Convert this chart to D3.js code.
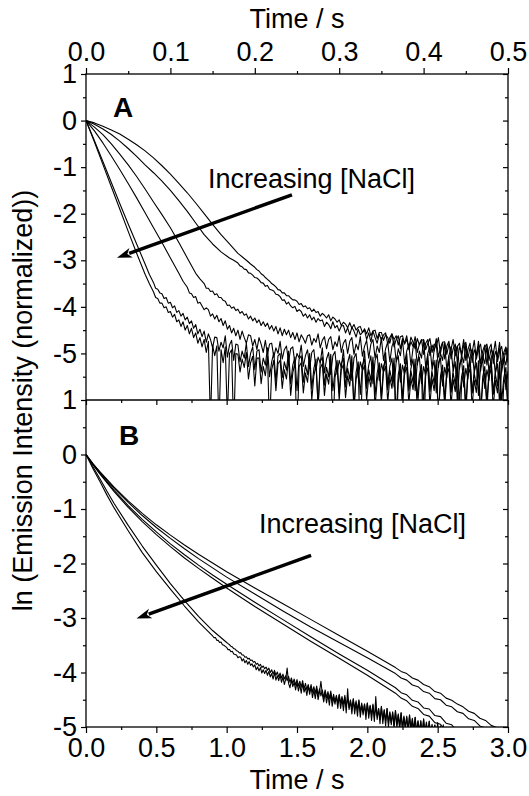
<!DOCTYPE html>
<html>
<head>
<meta charset="utf-8">
<script src="https://cdnjs.cloudflare.com/ajax/libs/d3/7.8.5/d3.min.js"></script>
<style>
body { margin: 0; background: #fff; }
svg { display: block; font-family: "Liberation Sans", Arial, sans-serif; }
</style>
</head>
<body>
<svg id="chart" width="529" height="796"></svg>
<script>
// ---- axis ticks ----
const xTicksA = [0, 0.1, 0.2, 0.3, 0.4, 0.5];
const xMinorA = [0.05, 0.15, 0.25, 0.35, 0.45];
const xTicksB = [0, 0.5, 1.0, 1.5, 2.0, 2.5, 3.0];
const xMinorB = [0.25, 0.75, 1.25, 1.75, 2.25, 2.75];
const yTicksA = [1, 0, -1, -2, -3, -4, -5];
const yMinorA = [0.5, -0.5, -1.5, -2.5, -3.5, -4.5, -5.5];
const yTicksB = [1, 0, -1, -2, -3, -4, -5];
const yMinorB = [0.5, -0.5, -1.5, -2.5, -3.5, -4.5];

// ---- panel A: smooth head [t, y], then noisy tail sampled every 0.0025 s ----
const a1Head = [[0,0],[0.01,-0.05],[0.02,-0.12],[0.03,-0.2],[0.04,-0.29],[0.05,-0.4],[0.06,-0.52],[0.07,-0.65],[0.08,-0.8],[0.09,-0.97],[0.10,-1.15],[0.11,-1.35],[0.12,-1.55],[0.13,-1.77],[0.14,-2.0],[0.15,-2.23],[0.16,-2.45],[0.17,-2.65],[0.18,-2.85],[0.19,-3.0],[0.195,-3.08]];
const a1Tail = [
  -3.15,-3.20,-3.23,-3.29,-3.32,-3.37,-3.41,-3.45,-3.50,-3.53,
  -3.57,-3.63,-3.64,-3.70,-3.70,-3.76,-3.76,-3.81,-3.85,-3.85,
  -3.88,-3.95,-3.93,-4.00,-3.98,-4.04,-4.02,-4.10,-4.05,-4.12,
  -4.10,-4.20,-4.14,-4.18,-4.24,-4.17,-4.30,-4.22,-4.26,-4.33,
  -4.28,-4.40,-4.33,-4.37,-4.45,-4.34,-4.46,-4.38,-4.50,-4.44,
  -4.42,-4.55,-4.47,-4.58,-4.45,-4.62,-4.52,-4.50,-4.68,-4.55,
  -4.55,-4.72,-4.60,-4.66,-4.78,-4.58,-4.70,-4.62,-4.82,-4.64,
  -4.62,-4.80,-4.70,-4.88,-4.65,-4.76,-4.90,-4.68,-4.82,-4.72,
  -4.70,-4.92,-4.78,-4.68,-4.98,-4.80,-4.86,-4.66,-5.00,-4.76,
  -4.75,-5.02,-4.80,-4.92,-4.70,-5.05,-4.85,-4.78,-5.08,-4.82,
  -4.76,-5.10,-4.88,-4.98,-4.72,-5.12,-4.90,-4.80,-5.15,-4.86,
  -4.80,-5.15,-4.90,-5.02,-4.74,-5.18,-4.95,-4.85,-5.20,-4.88,
  -5.05];
const a2Head = [[0,0],[0.01,-0.08],[0.02,-0.18],[0.03,-0.3],[0.04,-0.44],[0.05,-0.6],[0.06,-0.77],[0.07,-0.95],[0.08,-1.12],[0.09,-1.3],[0.10,-1.5],[0.11,-1.72],[0.12,-1.95],[0.13,-2.2],[0.14,-2.45],[0.15,-2.65],[0.16,-2.82],[0.17,-2.95],[0.175,-3.0]];
const a2Tail = [
  -3.06,-3.12,-3.14,-3.19,-3.20,-3.27,-3.28,-3.32,-3.37,-3.38,
  -3.42,-3.48,-3.49,-3.56,-3.54,-3.62,-3.64,-3.66,-3.73,-3.74,
  -3.78,-3.86,-3.85,-3.94,-3.90,-3.98,-4.02,-3.99,-4.10,-4.06,
  -4.10,-4.20,-4.15,-4.24,-4.17,-4.28,-4.22,-4.33,-4.25,-4.30,
  -4.28,-4.42,-4.33,-4.38,-4.47,-4.32,-4.45,-4.40,-4.52,-4.41,
  -4.40,-4.56,-4.45,-4.60,-4.44,-4.52,-4.65,-4.48,-4.60,-4.55,
  -4.50,-4.70,-4.56,-4.75,-4.52,-4.66,-4.78,-4.58,-4.72,-4.60,
  -4.56,-4.80,-4.66,-4.58,-4.86,-4.70,-4.62,-4.90,-4.68,-4.78,
  -4.62,-4.92,-4.75,-4.85,-4.64,-4.98,-4.80,-4.70,-5.02,-4.78,
  -4.70,-5.05,-4.82,-4.95,-4.68,-5.08,-4.88,-4.76,-5.12,-4.84,
  -4.74,-5.12,-4.90,-4.80,-5.18,-4.86,-5.00,-4.70,-5.15,-4.92,
  -4.78,-5.20,-4.92,-5.05,-4.74,-5.22,-4.95,-4.82,-5.25,-4.90,
  -4.80,-5.22,-4.96,-5.08,-4.76,-5.26,-4.98,-4.86,-5.20];
const a3Head = [[0,0],[0.01,-0.14],[0.02,-0.3],[0.03,-0.5],[0.04,-0.72],[0.05,-0.95],[0.06,-1.2],[0.07,-1.47],[0.08,-1.75],[0.09,-2.02],[0.10,-2.3],[0.11,-2.62],[0.12,-2.95],[0.13,-3.28],[0.135,-3.4]];
const a3Tail = [
  -3.50,-3.60,-3.60,-3.67,-3.66,-3.74,-3.72,-3.80,-3.80,-3.86,
  -3.88,-3.97,-3.96,-4.03,-4.00,-4.08,-4.05,-4.14,-4.10,-4.18,
  -4.15,-4.26,-4.20,-4.30,-4.24,-4.34,-4.28,-4.40,-4.32,-4.42,
  -4.35,-4.48,-4.40,-4.52,-4.42,-4.58,-4.45,-4.62,-4.48,-4.60,
  -4.50,-4.66,-4.55,-4.70,-4.56,-4.75,-4.60,-4.68,-4.78,-4.62,
  -4.60,-4.82,-4.68,-4.76,-4.58,-4.88,-4.72,-4.64,-4.90,-4.70,
  -4.64,-4.92,-4.75,-4.85,-4.62,-4.98,-4.78,-4.70,-5.00,-4.74,
  -4.66,-5.02,-4.80,-4.92,-4.64,-5.06,-4.85,-4.72,-5.10,-4.80,
  -4.70,-5.10,-4.84,-4.98,-4.66,-5.15,-4.90,-4.76,-5.18,-4.85,
  -4.72,-5.18,-4.90,-5.05,-4.70,-5.22,-4.95,-4.80,-5.26,-4.88,
  -4.76,-5.25,-4.95,-5.10,-4.72,-5.30,-5.00,-4.85,-5.32,-4.92,
  -4.80,-5.30,-5.00,-5.15,-4.78,-5.35,-5.05,-4.88,-5.38,-4.96,
  -4.84,-5.34,-5.04,-5.20,-4.80,-5.38,-5.08,-4.92,-5.42,-5.00,
  -4.86,-5.38,-5.06,-5.22,-4.84,-5.42,-5.10,-4.95,-5.45,-5.02,
  -4.90,-5.40,-5.10,-5.25,-4.88];
const a4Head = [[0,0],[0.01,-0.22],[0.02,-0.48],[0.03,-0.76],[0.04,-1.05],[0.05,-1.35],[0.06,-1.66],[0.07,-1.98],[0.08,-2.3],[0.09,-2.62],[0.10,-2.95],[0.11,-3.28],[0.115,-3.45]];
const a4Tail = [
  -3.58,-3.70,-3.72,-3.80,-3.78,-3.92,-3.90,-3.98,-4.06,-4.02,
  -4.06,-4.20,-4.15,-4.26,-4.18,-4.32,-4.25,-4.40,-4.30,-4.48,
  -4.40,-4.56,-4.46,-4.62,-4.50,-4.70,-4.52,-4.66,-4.78,-4.60,
  -4.62,-4.84,-4.70,-4.92,-4.66,-4.80,-4.98,-4.72,-5.02,-4.80,
  -4.78,-5.08,-4.88,-5.00,-4.74,-5.12,-4.92,-4.84,-5.18,-4.90,
  -4.86,-5.22,-5.00,-5.10,-4.82,-5.28,-5.05,-4.92,-5.32,-4.98,
  -4.92,-5.35,-5.08,-5.20,-4.88,-5.42,-5.12,-4.98,-5.45,-5.05,
  -4.96,-5.45,-5.15,-5.30,-4.92,-5.52,-5.20,-5.02,-5.58,-5.10,
  -5.00,-5.52,-5.18,-5.35,-4.95,-5.60,-5.25,-5.05,-5.65,-5.15,
  -5.02,-5.58,-5.22,-5.40,-4.98,-5.68,-5.28,-5.10,-5.72,-5.18,
  -5.05,-5.62,-5.25,-5.45,-5.00,-5.75,-5.32,-5.12,-5.80,-5.20,
  -5.08,-5.65,-5.28,-5.48,-5.02,-5.78,-5.35,-5.15,-5.85,-5.22,
  -5.10,-5.70,-5.30,-5.52,-5.05,-5.82,-5.38,-5.18,-6.05,-5.25,
  -5.12,-5.72,-5.32,-5.55,-5.08,-5.85,-5.40,-5.20,-5.90,-5.28,
  -5.14,-5.75,-5.35,-5.58,-5.10,-5.88,-5.42,-5.22,-6.10,-5.30,
  -5.16,-5.78,-5.38];
const a5Head = [[0,0],[0.01,-0.43],[0.02,-0.88],[0.03,-1.33],[0.04,-1.78],[0.05,-2.22],[0.06,-2.65],[0.07,-3.08],[0.075,-3.3]];
const a5Tail = [
  -3.48,-3.60,-3.62,-3.70,-3.72,-3.82,-3.80,-3.92,-3.90,-4.02,
  -3.98,-4.12,-4.08,-4.20,-4.14,-4.28,-4.22,-4.36,-4.30,-4.46,
  -4.38,-4.58,-4.48,-4.64,-4.52,-4.76,-4.58,-4.70,-4.88,-4.65,
  -4.66,-4.95,-4.76,-4.88,-4.62,-5.08,-4.82,-4.72,-5.15,-4.80,
  -4.82,-5.18,-4.95,-5.10,-4.78,-5.28,-5.00,-4.86,-5.35,-4.95,
  -4.92,-5.40,-5.10,-5.25,-4.88,-5.50,-5.18,-4.98,-5.60,-5.05,
  -5.00,-5.52,-5.18,-5.36,-4.95,-5.65,-5.25,-5.08,-5.80,-5.12,
  -5.05,-5.62,-5.25,-5.45,-5.00,-5.75,-5.32,-5.12,-6.20,-5.18,
  -5.08,-5.68,-5.30,-5.50,-5.02,-5.80,-5.38,-5.15,-5.85,-5.22,
  -5.10,-5.72,-5.32,-5.55,-5.05,-6.30,-5.40,-5.18,-5.88,-5.25,
  -5.12,-5.75,-5.35,-5.58,-5.08,-5.90,-5.42,-5.20,-5.95,-5.28,
  -5.14,-5.78,-5.36,-5.60,-5.10,-6.40,-5.45,-5.22,-5.98,-5.30,
  -5.15,-5.80,-5.38,-5.62,-5.12,-5.95,-5.46,-5.24,-6.10,-5.32,
  -5.16,-5.82,-5.40,-5.64,-5.14,-6.50,-5.48,-5.25,-6.00,-5.34,
  -5.18,-5.84,-5.42,-5.66,-5.15,-6.00,-5.50,-5.26,-6.15,-5.35,
  -5.19,-5.85,-5.43,-5.68,-5.16,-6.35,-5.51,-5.28,-6.05,-5.36,
  -5.20,-5.86,-5.44,-5.70,-5.18,-6.02,-5.52,-5.30,-6.20];
const a6Head = [[0,0],[0.01,-0.46],[0.02,-0.94],[0.03,-1.42],[0.04,-1.9],[0.05,-2.38],[0.06,-2.85],[0.07,-3.3],[0.075,-3.5]];
const a6Tail = [
  -3.68,-3.80,-3.82,-3.92,-3.92,-4.02,-4.00,-4.12,-4.10,-4.22,
  -4.16,-4.32,-4.28,-4.42,-4.32,-4.50,-4.40,-4.58,-4.46,-4.66,
  -4.56,-4.78,-4.66,-4.86,-4.70,-4.98,-4.74,-6.50,-4.82,-5.05,
  -4.84,-6.60,-4.92,-5.20,-4.86,-6.40,-5.00,-4.92,-6.70,-5.00,
  -5.02,-5.40,-5.12,-5.30,-4.98,-5.55,-5.20,-5.06,-5.70,-5.10,
  -5.10,-5.65,-5.28,-5.48,-5.05,-6.60,-5.35,-5.15,-5.80,-5.22,
  -5.15,-5.75,-5.35,-5.55,-5.10,-5.90,-5.42,-5.20,-6.80,-5.28,
  -5.20,-5.85,-5.42,-5.62,-5.15,-6.00,-5.48,-5.25,-6.10,-5.32,
  -5.22,-5.90,-5.45,-5.66,-5.18,-6.70,-5.52,-5.28,-6.00,-5.35,
  -5.24,-5.95,-5.48,-5.70,-5.20,-6.10,-5.55,-5.30,-6.90,-5.38,
  -5.26,-6.00,-5.50,-5.72,-5.22,-6.15,-5.58,-5.32,-6.05,-5.40,
  -5.28,-6.05,-5.52,-5.75,-5.24,-6.80,-5.60,-5.34,-6.20,-5.42,
  -5.30,-6.08,-5.54,-5.78,-5.25,-6.20,-5.62,-5.36,-7.00,-5.44,
  -5.31,-6.10,-5.55,-5.80,-5.26,-6.25,-5.64,-5.38,-6.15,-5.45,
  -5.32,-6.12,-5.56,-5.82,-5.28,-6.90,-5.65,-5.40,-6.30,-5.46,
  -5.33,-6.15,-5.57,-5.84,-5.30,-6.30,-5.66,-5.42,-6.20,-5.47,
  -5.34,-6.18,-5.58,-5.85,-5.32,-6.60,-5.67,-5.44,-6.25];
const tailStartA = [0.2, 0.18, 0.14, 0.12, 0.08, 0.08];
const tailStepA = 0.0025;

// ---- panel B: smooth head [t, y], noisy tail (fast decays every 0.01 s, slow ones every 0.04 s) ----
const b1Head = [[0,0],[0.05,-0.26],[0.1,-0.5],[0.15,-0.75],[0.2,-0.98],[0.3,-1.4],[0.4,-1.8],[0.5,-2.15],[0.6,-2.47],[0.7,-2.78],[0.8,-3.07],[0.85,-3.2]];
const b1Tail = [
  -3.33,-3.36,-3.36,-3.41,-3.41,-3.45,-3.44,-3.49,-3.50,-3.52,
  -3.54,-3.58,-3.58,-3.62,-3.61,-3.66,-3.67,-3.68,-3.73,-3.71,
  -3.72,-3.79,-3.75,-3.82,-3.78,-3.85,-3.80,-3.87,-3.84,-3.90,
  -3.86,-3.95,-3.90,-3.97,-3.91,-4.01,-3.95,-4.02,-3.96,-4.05,
  -3.98,-4.08,-4.02,-4.12,-4.00,-4.14,-4.06,-4.15,-4.05,-4.18,
  -4.08,-4.22,-4.12,-3.92,-4.20,-4.28,-4.14,-4.26,-4.18,-4.32,
  -4.18,-4.34,-4.22,-4.38,-4.20,-4.36,-4.28,-4.42,-4.24,-4.40,
  -4.26,-4.46,-4.32,-4.48,-4.30,-4.50,-4.36,-4.16,-4.40,-4.54,
  -4.36,-4.56,-4.40,-4.60,-4.38,-4.62,-4.46,-4.58,-4.44,-4.66,
  -4.42,-4.66,-4.48,-4.70,-4.46,-4.74,-4.30,-4.68,-4.52,-4.76,
  -4.50,-4.76,-4.56,-4.80,-4.52,-4.82,-4.60,-4.78,-4.58,-4.86,
  -4.56,-4.84,-4.62,-4.88,-4.60,-4.90,-4.44,-4.86,-4.66,-4.94,
  -4.62,-4.94,-4.70,-4.98,-4.66,-5.00,-4.74,-4.96,-4.72,-5.04,
  -4.70,-5.02,-4.78,-5.06,-4.74,-5.08,-4.82,-5.04,-4.80,-5.12,
  -4.78,-5.10,-4.86,-5.14,-4.82,-5.16,-4.90,-5.12,-4.88,-5.20,
  -4.86,-5.18,-4.94,-5.22,-4.90,-5.24,-4.98,-5.20,-4.96,-5.28,
  -5.05];
const b2Head = [[0,0],[0.05,-0.23],[0.1,-0.45],[0.15,-0.68],[0.2,-0.9],[0.3,-1.3],[0.4,-1.68],[0.5,-2.03],[0.6,-2.37],[0.7,-2.68],[0.8,-2.97],[0.9,-3.23],[0.95,-3.34]];
const b2Tail = [
  -3.45,-3.47,-3.49,-3.52,-3.53,-3.56,-3.57,-3.60,-3.61,-3.64,
  -3.64,-3.68,-3.68,-3.72,-3.71,-3.75,-3.74,-3.78,-3.77,-3.81,
  -3.80,-3.85,-3.83,-3.88,-3.85,-3.91,-3.88,-3.93,-3.90,-3.96,
  -3.92,-4.00,-3.95,-4.03,-3.96,-4.05,-3.99,-4.08,-4.01,-4.10,
  -4.03,-4.12,-4.06,-4.15,-4.07,-4.18,-4.10,-4.20,-4.12,-4.23,
  -4.13,-4.25,-4.16,-4.27,-4.15,-4.30,-4.20,-4.32,-4.22,-4.35,
  -4.22,-4.36,-4.26,-4.38,-4.25,-4.42,-4.30,-4.43,-4.32,-4.46,
  -4.32,-4.46,-4.35,-4.48,-4.34,-4.52,-4.40,-4.53,-4.42,-4.56,
  -4.40,-4.56,-4.44,-4.58,-4.42,-4.62,-4.48,-4.64,-4.50,-4.66,
  -4.48,-4.66,-4.52,-4.68,-4.50,-4.72,-4.56,-4.73,-4.58,-4.76,
  -4.56,-4.76,-4.60,-4.78,-4.58,-4.82,-4.64,-4.82,-4.66,-4.86,
  -4.63,-4.86,-4.68,-4.88,-4.66,-4.92,-4.72,-4.92,-4.74,-4.96,
  -4.70,-4.95,-4.76,-4.97,-4.74,-5.01,-4.80,-5.00,-4.82,-5.04,
  -4.78,-5.03,-4.84,-5.05,-4.82,-5.09,-4.88,-5.08,-4.90,-5.12,
  -4.85,-5.10,-4.91,-5.12,-4.89,-5.16,-4.95,-5.15,-4.97,-5.19,
  -4.92,-5.18,-4.98,-5.20,-4.96,-5.24,-5.02,-5.22,-5.04,-5.26,
  -5.10];
const b3Head = [[0,0],[0.05,-0.17],[0.1,-0.32],[0.2,-0.6],[0.3,-0.85],[0.4,-1.08],[0.5,-1.29],[0.6,-1.48],[0.7,-1.66],[0.8,-1.83],[0.9,-1.99],[1.0,-2.15],[1.2,-2.45],[1.4,-2.74],[1.6,-3.03],[1.8,-3.32],[2.0,-3.61],[2.2,-3.91]];
const b3Tail = [-3.98,-4.02,-4.10,-4.14,-4.22,-4.26,-4.35,-4.38,-4.47,-4.51,-4.58,-4.63,-4.71,-4.75,-4.84,-4.88,-4.97,-5.01,-5.10];
const b4Head = [[0,0],[0.05,-0.17],[0.1,-0.33],[0.2,-0.62],[0.3,-0.88],[0.4,-1.12],[0.5,-1.34],[0.6,-1.54],[0.7,-1.73],[0.8,-1.91],[0.9,-2.08],[1.0,-2.25],[1.2,-2.56],[1.4,-2.87],[1.6,-3.17],[1.8,-3.45],[2.0,-3.73],[2.2,-4.02]];
const b4Tail = [-4.10,-4.14,-4.23,-4.26,-4.35,-4.38,-4.48,-4.50,-4.60,-4.63,-4.72,-4.75,-4.85,-4.88,-4.98,-5.02,-5.10];
const b5Head = [[0,0],[0.05,-0.18],[0.1,-0.35],[0.2,-0.66],[0.3,-0.94],[0.4,-1.19],[0.5,-1.42],[0.6,-1.64],[0.7,-1.84],[0.8,-2.03],[0.9,-2.21],[1.0,-2.38],[1.2,-2.71],[1.4,-3.03],[1.6,-3.35],[1.8,-3.66],[2.0,-3.96],[2.2,-4.28]];
const b5Tail = [-4.37,-4.41,-4.51,-4.54,-4.65,-4.67,-4.79,-4.81,-4.93,-4.96,-5.08];
const b6Head = [[0,0],[0.05,-0.19],[0.1,-0.36],[0.2,-0.68],[0.3,-0.97],[0.4,-1.23],[0.5,-1.47],[0.6,-1.69],[0.7,-1.9],[0.8,-2.09],[0.9,-2.27],[1.0,-2.45],[1.2,-2.79],[1.4,-3.11],[1.6,-3.43],[1.8,-3.74],[2.0,-4.05],[2.2,-4.38]];
const b6Tail = [-4.47,-4.52,-4.62,-4.66,-4.77,-4.80,-4.92,-4.95,-5.08];
const tailStartB = [0.9, 1.0, 2.24, 2.24, 2.24, 2.24];
const tailStepB = [0.01, 0.01, 0.04, 0.04, 0.04, 0.04];

const labelText = "Increasing [NaCl]";

function series(head, tail, t0, dt) {
  return head.concat(tail.map((y, i) => [t0 + i * dt, y]));
}

const seriesA = [
  series(a1Head, a1Tail, tailStartA[0], tailStepA),
  series(a2Head, a2Tail, tailStartA[1], tailStepA),
  series(a3Head, a3Tail, tailStartA[2], tailStepA),
  series(a4Head, a4Tail, tailStartA[3], tailStepA),
  series(a5Head, a5Tail, tailStartA[4], tailStepA),
  series(a6Head, a6Tail, tailStartA[5], tailStepA)
];
const seriesB = [
  series(b1Head, b1Tail, tailStartB[0], tailStepB[0]),
  series(b2Head, b2Tail, tailStartB[1], tailStepB[1]),
  series(b3Head, b3Tail, tailStartB[2], tailStepB[2]),
  series(b4Head, b4Tail, tailStartB[3], tailStepB[3]),
  series(b5Head, b5Tail, tailStartB[4], tailStepB[4]),
  series(b6Head, b6Tail, tailStartB[5], tailStepB[5])
];

// ---- layout ----
const left = 86, right = 508, topA = 74, mid = 400, bottomB = 727;
const FS = 27;
const FONT = "'Liberation Sans', Arial, sans-serif";

const xA = d3.scaleLinear().domain([0, 0.5]).range([left, right]);
const yA = d3.scaleLinear().domain([-6, 1]).range([mid, topA]);
const xB = d3.scaleLinear().domain([0, 3]).range([left, right]);
const yB = d3.scaleLinear().domain([-5, 1]).range([bottomB, mid]);

const svg = d3.select("#chart");
const defs = svg.append("defs");
defs.append("clipPath").attr("id", "clipA").append("rect")
  .attr("x", left).attr("y", topA).attr("width", right - left).attr("height", mid - topA);
defs.append("clipPath").attr("id", "clipB").append("rect")
  .attr("x", left).attr("y", mid).attr("width", right - left).attr("height", bottomB - mid);

function drawLines(data, x, y, clip) {
  const line = d3.line().x(d => x(d[0])).y(d => y(d[1]));
  svg.append("g").attr("clip-path", `url(#${clip})`)
    .selectAll("path").data(data).join("path")
    .attr("d", line)
    .attr("fill", "none")
    .attr("stroke", "#000")
    .attr("stroke-width", 1.1)
    .attr("stroke-linejoin", "round");
}
drawLines(seriesA, xA, yA, "clipA");
drawLines(seriesB, xB, yB, "clipB");

function addAxis(axis, tx, ty) {
  const g = svg.append("g").attr("transform", `translate(${tx},${ty})`).call(axis);
  g.select(".domain").remove();
  g.attr("font-size", FS).attr("font-family", FONT);
  g.selectAll("line").attr("stroke", "#000").attr("stroke-width", 1.2);
  g.selectAll("text").attr("fill", "#000");
  return g;
}
const fmt1 = d3.format(".1f");
const plain = d => String(d);

// panel A axes
addAxis(d3.axisTop(xA).tickValues(xTicksA).tickFormat(fmt1).tickSize(6).tickPadding(7), 0, topA);
addAxis(d3.axisTop(xA).tickValues(xMinorA).tickFormat("").tickSize(3), 0, topA);
addAxis(d3.axisLeft(yA).tickValues(yTicksA).tickFormat(plain).tickSize(5).tickPadding(4), left, 0);
addAxis(d3.axisLeft(yA).tickValues(yMinorA).tickFormat("").tickSize(3), left, 0);
addAxis(d3.axisRight(yA).tickValues(yTicksA).tickFormat("").tickSize(-5), right, 0);
addAxis(d3.axisRight(yA).tickValues(yMinorA).tickFormat("").tickSize(-3), right, 0);

// panel B axes
addAxis(d3.axisBottom(xB).tickValues(xTicksB).tickFormat(fmt1).tickSize(6).tickPadding(5), 0, bottomB);
addAxis(d3.axisBottom(xB).tickValues(xMinorB).tickFormat("").tickSize(3), 0, bottomB);
addAxis(d3.axisTop(xB).tickValues(xTicksB).tickFormat("").tickSize(-5), 0, mid);
addAxis(d3.axisTop(xB).tickValues(xMinorB).tickFormat("").tickSize(-3), 0, mid);
addAxis(d3.axisLeft(yB).tickValues(yTicksB).tickFormat(plain).tickSize(5).tickPadding(4), left, 0);
addAxis(d3.axisLeft(yB).tickValues(yMinorB).tickFormat("").tickSize(3), left, 0);
addAxis(d3.axisRight(yB).tickValues(yTicksB).tickFormat("").tickSize(-5), right, 0);
addAxis(d3.axisRight(yB).tickValues(yMinorB).tickFormat("").tickSize(-3), right, 0);

// frames
svg.append("rect").attr("x", left).attr("y", topA).attr("width", right - left).attr("height", bottomB - topA)
  .attr("fill", "none").attr("stroke", "#000").attr("stroke-width", 1.3);
svg.append("line").attr("x1", left).attr("x2", right).attr("y1", mid).attr("y2", mid)
  .attr("stroke", "#000").attr("stroke-width", 1.3);

// titles
svg.append("text").attr("x", (left + right) / 2).attr("y", 28).attr("text-anchor", "middle")
  .attr("font-size", FS).text("Time / s");
svg.append("text").attr("x", (left + right) / 2).attr("y", 789).attr("text-anchor", "middle")
  .attr("font-size", FS).text("Time / s");
svg.append("text").attr("transform", `translate(32,${(topA + bottomB) / 2}) rotate(-90)`)
  .attr("text-anchor", "middle").attr("font-size", FS)
  .text("ln (Emission Intensity (normalized))");

// panel letters
svg.append("text").attr("x", xA(0.032)).attr("y", yA(0.08)).attr("font-size", FS + 1)
  .attr("font-weight", "bold").text("A");
svg.append("text").attr("x", xB(0.235)).attr("y", yB(0.17)).attr("font-size", FS + 1)
  .attr("font-weight", "bold").text("B");

// annotations
function arrow(x1, y1, x2, y2) {
  const ang = Math.atan2(y2 - y1, x2 - x1);
  const L = 15, W = 5;
  const bx = x2 - L * Math.cos(ang), by = y2 - L * Math.sin(ang);
  svg.append("line").attr("x1", x1).attr("y1", y1).attr("x2", bx + 2 * Math.cos(ang)).attr("y2", by + 2 * Math.sin(ang))
    .attr("stroke", "#000").attr("stroke-width", 3.5);
  svg.append("path")
    .attr("d", `M${x2},${y2}L${bx + W * Math.sin(ang)},${by - W * Math.cos(ang)}L${bx + 4 * Math.cos(ang)},${by + 4 * Math.sin(ang)}L${bx - W * Math.sin(ang)},${by + W * Math.cos(ang)}Z`)
    .attr("fill", "#000");
}
svg.append("text").attr("x", xA(0.1445)).attr("y", yA(-1.444)).attr("font-size", FS).text(labelText);
arrow(xA(0.244), yA(-1.594), xA(0.0367), yA(-2.946));
svg.append("text").attr("x", xB(1.23)).attr("y", yB(-1.445)).attr("font-size", FS).text(labelText);
arrow(xB(1.6), yB(-1.85), xB(0.359), yB(-3.01));
</script>
</body>
</html>
